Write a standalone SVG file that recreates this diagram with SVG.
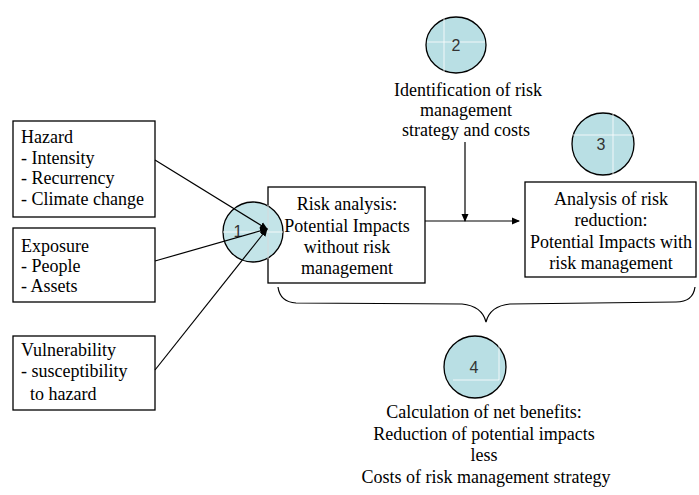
<svg xmlns="http://www.w3.org/2000/svg" width="699" height="495" viewBox="0 0 699 495">
<defs>
<style>
.box{fill:#fff;stroke:#000;stroke-width:1.3}
.t{font-family:"Liberation Serif","Times New Roman",serif;font-size:18px;fill:#000}
.c{text-anchor:middle}
.circ{fill:#b9dfe4;stroke:#000;stroke-width:1.3}
.cross{stroke:#fff;stroke-width:1;opacity:0.8}
.num{font-family:"Liberation Sans",Arial,sans-serif;font-size:16px;fill:#333;text-anchor:middle}
.ln{fill:none;stroke:#000;stroke-width:1.2}
</style>
<marker id="ah" markerWidth="8" markerHeight="8" refX="7" refY="4" orient="auto" markerUnits="userSpaceOnUse">
<path d="M0,0.5 L8,4 L0,7.5 Z" fill="#000"/>
</marker>
</defs>
<g id="hazard">
<rect class="box" x="13" y="121" width="142" height="96"/>
<text class="t" x="21" y="143">Hazard</text>
<text class="t" x="21" y="164">- Intensity</text>
<text class="t" x="21" y="184">- Recurrency</text>
<text class="t" x="21" y="205">- Climate change</text>
</g>
<g id="exposure">
<rect class="box" x="13" y="228" width="142" height="74"/>
<text class="t" x="21" y="252">Exposure</text>
<text class="t" x="21" y="272">- People</text>
<text class="t" x="21" y="292">- Assets</text>
</g>
<g id="vulnerability">
<rect class="box" x="13" y="336" width="142" height="74"/>
<text class="t" x="21" y="356">Vulnerability</text>
<text class="t" x="21" y="377">- susceptibility</text>
<text class="t" x="30" y="400">to hazard</text>
</g>
<g id="risk-analysis">
<rect class="box" x="268" y="187" width="157" height="96"/>
<text class="t c" x="347" y="210">Risk analysis:</text>
<text class="t c" x="347" y="232">Potential Impacts</text>
<text class="t c" x="347" y="253">without risk</text>
<text class="t c" x="347" y="274">management</text>
</g>
<g id="step1">
<circle class="circ" cx="253" cy="232" r="30" fill-opacity="0.85"/>
<line class="cross" x1="223" y1="232" x2="283" y2="232"/>
<line class="cross" x1="268" y1="205" x2="268" y2="259"/>
<text class="num" x="238" y="237">1</text>
</g>
<g id="step2">
<ellipse class="circ" cx="456" cy="45" rx="30" ry="28"/>
<line class="cross" x1="427" y1="42" x2="485" y2="42"/>
<line class="cross" x1="444" y1="18" x2="444" y2="72"/>
<text class="num" x="456" y="51">2</text>
<text class="t c" x="468" y="96">Identification of risk</text>
<text class="t c" x="466" y="116">management</text>
<text class="t c" x="466" y="136">strategy and costs</text>
</g>
<g id="step3">
<circle class="circ" cx="603" cy="144" r="31"/>
<line class="cross" x1="573" y1="135" x2="633" y2="135"/>
<line class="cross" x1="613" y1="114" x2="613" y2="174"/>
<text class="num" x="601" y="150">3</text>
</g>
<g id="risk-reduction">
<rect class="box" x="525" y="182" width="171" height="95"/>
<text class="t c" x="611" y="205">Analysis of risk</text>
<text class="t c" x="611" y="226">reduction:</text>
<text class="t c" x="611" y="248">Potential Impacts with</text>
<text class="t c" x="611" y="269">risk management</text>
</g>
<g id="step4">
<circle class="circ" cx="475" cy="367" r="31"/>
<line class="cross" x1="453" y1="380" x2="499" y2="380"/>
<line class="cross" x1="499" y1="340" x2="499" y2="380"/>
<text class="num" x="474" y="373">4</text>
<text class="t c" x="484" y="418">Calculation of net benefits:</text>
<text class="t c" x="484" y="440">Reduction of potential impacts</text>
<text class="t c" x="484" y="461">less</text>
<text class="t c" x="486" y="483">Costs of risk management strategy</text>
</g>
<g id="connectors">
<line class="ln" x1="155" y1="160" x2="267" y2="229" marker-end="url(#ah)"/>
<line class="ln" x1="155" y1="261" x2="267" y2="229" marker-end="url(#ah)"/>
<line class="ln" x1="155" y1="370" x2="267" y2="229" marker-end="url(#ah)"/>
<line class="ln" x1="465" y1="142" x2="465" y2="221" marker-end="url(#ah)"/>
<line class="ln" x1="425" y1="221" x2="519" y2="221" marker-end="url(#ah)"/>
<path class="ln" d="M278,287 Q280,302 296,303 L462,304 Q482,306 486,322 Q490,306 510,304 L676,302 Q693,302 695,287"/>
</g>
</svg>
